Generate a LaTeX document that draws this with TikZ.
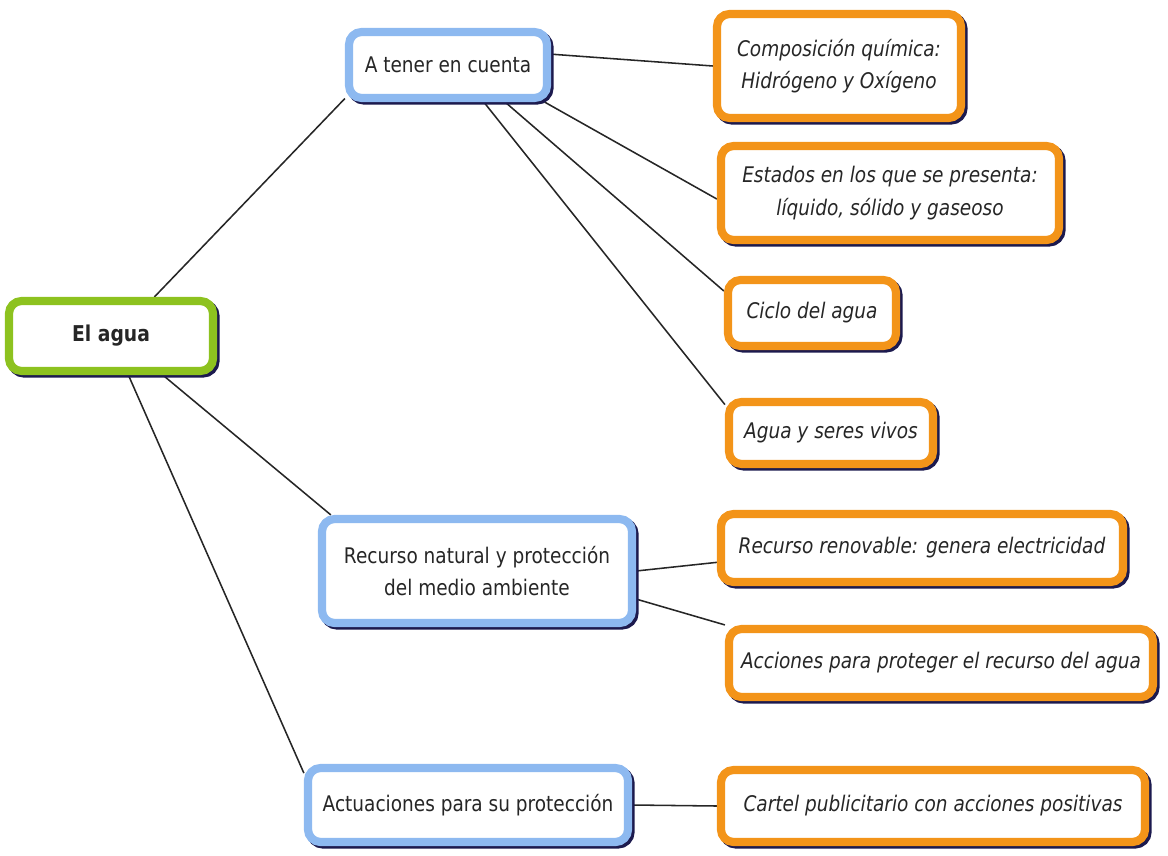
\documentclass[tikz,border=0pt]{standalone}
\usepackage{fontspec}
\setsansfont{DejaVu Sans}[FakeStretch=0.86]
\usetikzlibrary{shadows,backgrounds}

\definecolor{mapgreen}{HTML}{8DC21F}
\definecolor{mapblue}{HTML}{8DB9F0}
\definecolor{maporange}{HTML}{F39419}
\definecolor{mapshadow}{HTML}{1C1A4E}
\definecolor{maptext}{HTML}{262626}

\begin{document}
\begin{tikzpicture}[x=0.025cm, y=-0.025cm,
    box/.style = {draw, line width=5.8pt, rounded corners=9pt, fill=white, align=center,
        text=maptext, font=\sffamily\fontsize{15.3}{23}\selectfont,
        drop shadow={shadow xshift=1.8pt, shadow yshift=-1.8pt, fill=mapshadow,
            draw=mapshadow, line width=5.8pt, opacity=1}},
    root/.style = {box, draw=mapgreen, font=\sffamily\bfseries\fontsize{15.5}{19}\selectfont},
    topic/.style = {box, draw=mapblue},
    leaf/.style = {box, draw=maporange, font=\sffamily\itshape\fontsize{15.3}{23}\selectfont},
    link/.style = {line width=1.1pt, black!85}]
    \useasboundingbox (0,0) rectangle (1168,855);

    \node[root, minimum width=5.1cm, minimum height=1.75cm] (agua) at (111,336) {El agua};

    \node[topic, minimum width=4.95cm, minimum height=1.65cm] (tener) at (448,65) {A tener en cuenta};
    \node[topic, minimum width=7.75cm, minimum height=2.6cm] (recnat) at (477,571) {Recurso natural y protección\\del medio ambiente};
    \node[topic, minimum width=8cm, minimum height=1.85cm] (actu) at (468,805) {Actuaciones para su protección};

    \node[leaf, minimum width=6.1cm, minimum height=2.6cm] (comp) at (839,66) {Composición química:\\Hidrógeno y Oxígeno};
    \node[leaf, minimum width=8.45cm, minimum height=2.35cm] (estados) at (890,193) {Estados en los que se presenta:\\líquido, sólido y gaseoso};
    \node[leaf, minimum width=4.2cm, minimum height=1.65cm] (ciclo) at (812,313) {Ciclo del agua};
    \node[leaf, minimum width=5.1cm, minimum height=1.55cm] (seres) at (831,433) {Agua y seres vivos};
    \node[leaf, minimum width=10.05cm, minimum height=1.7cm] (renov) at (922,548) {Recurso renovable: genera electricidad};
    \node[leaf, minimum width=10.6cm, minimum height=1.7cm] (acciones) at (941,663) {Acciones para proteger el recurso del agua};
    \node[leaf, minimum width=10.6cm, minimum height=1.8cm] (cartel) at (933,806) {Cartel publicitario con acciones positivas};

    \begin{scope}[on background layer]
    \draw[link] (agua.42) -- (tener.198);
    \draw[link] (agua.-37) -- (recnat.159);
    \draw[link] (agua.-66) -- (actu.169);

    \draw[link] (tener.6) -- (comp.west);
    \draw[link] (tener.-21) -- (estados.182);
    \draw[link] (tener.-33) -- (ciclo.166);
    \draw[link] (tener.-46) -- (seres.165);

    \draw[link] (recnat.east) -- (renov.184);
    \draw[link] (recnat.-10) -- (acciones.north west);

    \draw[link] (actu.east) -- (cartel.west);
    \end{scope}
\end{tikzpicture}
\end{document}
